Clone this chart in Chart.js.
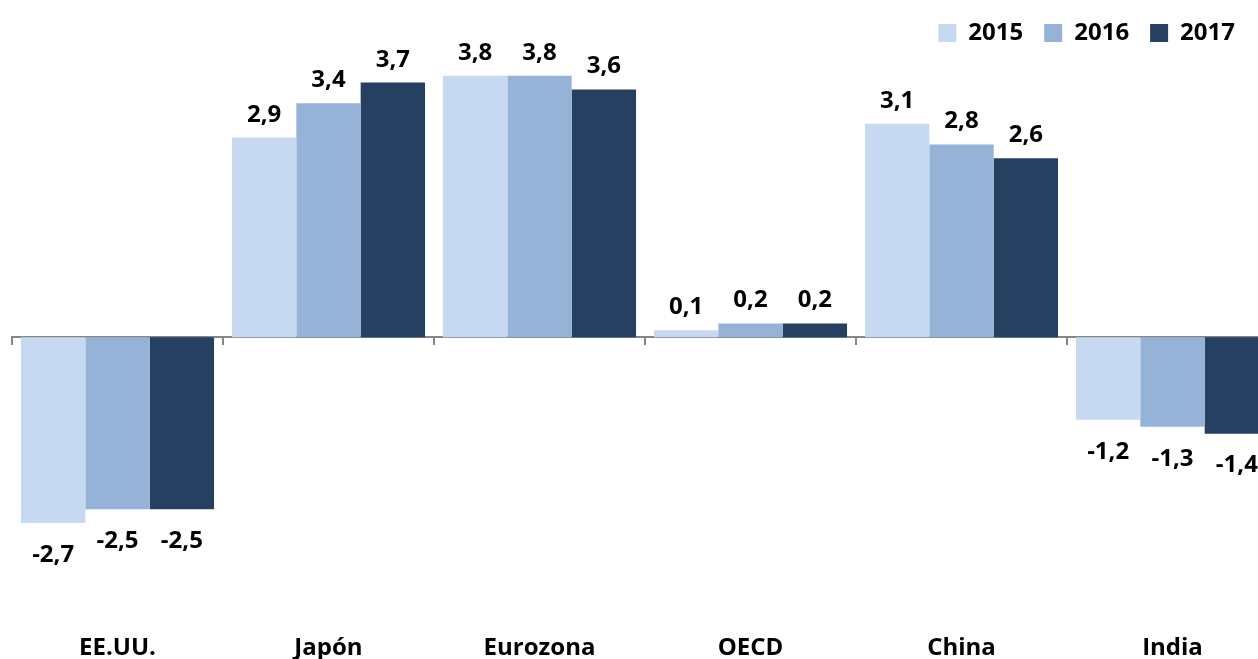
<!DOCTYPE html>
<html>
<head>
<meta charset="utf-8">
<script src="https://cdn.jsdelivr.net/npm/chart.js@4.4.1/dist/chart.umd.min.js"></script>
<style>
  html, body { margin: 0; padding: 0; background: #fff; overflow: hidden; }
  #wrap { position: relative; width: 1280px; height: 666px; }
</style>
</head>
<body>
<div id="wrap"><canvas id="chart"></canvas></div>
<script>
const CATEGORIES = ["EE.UU.", "Japón", "Eurozona", "OECD", "China", "India"];
const YEARS = ["2015", "2016", "2017"];
const VALUES_2015 = [-2.7, 2.9, 3.8, 0.1, 3.1, -1.2];
const VALUES_2016 = [-2.5, 3.4, 3.8, 0.2, 2.8, -1.3];
const VALUES_2017 = [-2.5, 3.7, 3.6, 0.2, 2.6, -1.4];
const COLORS = ["#c6d9f0", "#95b3d7", "#254061"];

const FONT = "'Open Sans', Lato, sans-serif";

// value labels above / below each bar, comma decimals
const valueLabels = {
  id: "valueLabels",
  afterDatasetsDraw(chart) {
    const ctx = chart.ctx;
    ctx.save();
    ctx.font = `bold 24px ${FONT}`;
    ctx.fillStyle = "#000";
    ctx.textAlign = "center";
    chart.data.datasets.forEach((ds, i) => {
      chart.getDatasetMeta(i).data.forEach((bar, j) => {
        const v = ds.data[j];
        const txt = v.toFixed(1).replace(".", ",");
        if (v >= 0) {
          ctx.textBaseline = "alphabetic";
          ctx.fillText(txt, bar.x, bar.y - 16);
        } else {
          ctx.textBaseline = "top";
          ctx.fillText(txt, bar.x, bar.y + 20);
        }
      });
    });
    ctx.restore();
  },
};

// pull the legend in from the right edge (canvas is wider than the window)
const legendShift = {
  id: "legendShift",
  afterLayout(chart) {
    chart.legend.right -= 22;
  },
};

new Chart(document.getElementById("chart"), {
  type: "bar",
  data: {
    labels: CATEGORIES,
    datasets: [
      { label: YEARS[0], data: VALUES_2015, backgroundColor: COLORS[0] },
      { label: YEARS[1], data: VALUES_2016, backgroundColor: COLORS[1] },
      { label: YEARS[2], data: VALUES_2017, backgroundColor: COLORS[2] },
    ],
  },
  options: {
    responsive: true,
    maintainAspectRatio: false,
    animation: false,
    layout: { padding: { left: 12, right: 2, top: 0, bottom: 0 } },
    datasets: { bar: { barPercentage: 1, categoryPercentage: 0.915 } },
    scales: {
      x: {
        grid: { display: false, drawTicks: false },
        border: { display: false },
        ticks: { color: "#000", font: { family: FONT, size: 24, weight: "bold" }, padding: 3 },
      },
      x2: {
        type: "category",
        labels: CATEGORIES,
        offset: true,
        position: { y: 0 },
        z: 1,
        grid: { offset: true, drawOnChartArea: false, drawTicks: true, tickLength: 7, color: "#868686", lineWidth: 2 },
        border: { display: true, color: "#868686", width: 2 },
        ticks: { display: false },
      },
      y: {
        display: false,
        min: -4.27,
        max: 4.1,
      },
    },
    plugins: {
      legend: {
        position: "top",
        align: "end",
        labels: {
          color: "#000",
          boxWidth: 18,
          boxHeight: 18,
          padding: 21,
          font: { family: FONT, size: 24, weight: "bold" },
        },
      },
      tooltip: { enabled: false },
    },
  },
  plugins: [valueLabels, legendShift],
});
</script>
</body>
</html>
